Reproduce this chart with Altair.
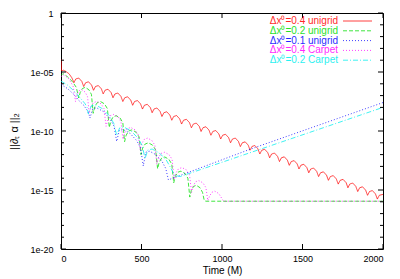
import altair as alt
import pandas as pd

# ---------------- data (log10 of ||d_t alpha||_2) ----------------
series_names = ["Δx⁰=0.4 unigrid", "Δx⁰=0.2 unigrid", "Δx⁰=0.1 unigrid",
                "Δx⁰=0.4 Carpet", "Δx⁰=0.2 Carpet"]
series_colors = ["#ff0000", "#00dd00", "#0000ff", "#ff00ff", "#00eeee"]
series_dash = [[1, 0], [4, 2], [1, 2], [1, 2], [5, 2, 1, 2]]

red_t = [0, 3, 15, 30, 50, 68,
         80, 92, 110, 129, 141, 153, 171, 190, 202, 214, 232, 251, 262, 274, 292, 311,
         323, 335, 353, 372, 384, 396, 414, 433, 445, 457, 475, 494, 506, 518, 536, 555,
         566, 578, 596, 615, 627, 639, 657, 676, 688, 700, 718, 737, 749, 761, 779, 798,
         810, 822, 840, 859, 870, 882, 900, 919, 931, 943, 961, 980, 992, 1004, 1022, 1041,
         1053, 1065, 1083, 1102, 1114, 1126, 1144, 1163, 1174, 1186, 1204, 1223,
         1235, 1247, 1265, 1284, 1296, 1308, 1326, 1345, 1357, 1369, 1387, 1406,
         1418, 1430, 1448, 1467, 1478, 1490, 1508, 1527, 1539, 1551, 1569, 1588,
         1600, 1612, 1630, 1649, 1661, 1673, 1691, 1710, 1722, 1734, 1752, 1771,
         1782, 1794, 1812, 1831, 1843, 1855, 1873, 1892, 1904, 1916, 1934, 1953,
         1965, 1977, 2000]
red_log = [-3.9, -4.9, -4.85, -4.95, -5.15, -5.5,
           -5.91, -5.59, -5.51, -5.79, -6.23, -5.91, -5.83, -6.11, -6.55, -6.23, -6.15, -6.43,
           -6.86, -6.54, -6.46, -6.74, -7.18, -6.86, -6.78, -7.06, -7.50, -7.18, -7.10, -7.38,
           -7.82, -7.50, -7.42, -7.70, -8.14, -7.82, -7.74, -8.02, -8.45, -8.13, -8.05, -8.33,
           -8.77, -8.45, -8.37, -8.65, -9.09, -8.77, -8.69, -8.97, -9.41, -9.09, -9.01, -9.29,
           -9.73, -9.41, -9.33, -9.61, -10.04, -9.72, -9.64, -9.92, -10.36, -10.04, -9.96, -10.24,
           -10.68, -10.36, -10.28, -10.56, -11.00, -10.68, -10.60, -10.88,
           -11.32, -11.00, -10.92, -11.20, -11.63, -11.31, -11.23, -11.51,
           -11.95, -11.63, -11.55, -11.83, -12.27, -11.95, -11.87, -12.15,
           -12.59, -12.27, -12.19, -12.47, -12.91, -12.59, -12.51, -12.79,
           -13.22, -12.90, -12.82, -13.10, -13.54, -13.22, -13.14, -13.42,
           -13.86, -13.54, -13.46, -13.74, -14.18, -13.86, -13.78, -14.06,
           -14.50, -14.18, -14.10, -14.38, -14.81, -14.49, -14.41, -14.69,
           -15.13, -14.81, -14.73, -15.01, -15.45, -15.13, -15.05, -15.33,
           -15.77, -15.45, -15.37]

green_t = [0, 12, 40, 70, 95, 110,
           119, 133, 150, 173, 189, 200,
           210, 225, 245, 270, 288, 300,
           310, 324, 343, 367, 384, 395,
           405, 420, 441, 466, 485, 497,
           507, 523, 543, 569, 588, 600,
           610, 625, 645, 670, 688, 700,
           710, 725, 745, 770, 788, 800,
           809, 823, 840, 863, 879, 890,
           900, 2000]
green_log = [-5.30, -5.13, -5.4, -5.8, -6.3, -7.2,
             -6.75, -6.4, -6.3, -6.5, -6.9, -8.5,
             -7.95, -7.6, -7.5, -7.7, -8.1, -9.7,
             -9.15, -8.8, -8.7, -8.9, -9.3, -10.9,
             -10.35, -10.0, -9.9, -10.1, -10.5, -12.0,
             -11.45, -11.1, -11.0, -11.2, -11.6, -13.2,
             -12.65, -12.3, -12.2, -12.4, -12.8, -14.4,
             -13.85, -13.5, -13.4, -13.6, -14.0, -15.6,
             -15.05, -14.7, -14.6, -14.8, -15.2, -15.9,
             -15.95, -15.95]

blue_t = [0, 40, 80, 110, 140, 160, 172, 180,
          197, 221, 263, 304, 329, 346,
          362, 387, 428, 470, 494, 511,
          527, 550, 589, 628, 651, 667,
          1174, 2000]
blue_log = [-6.05, -6.4, -6.9, -7.4, -7.8, -8.2, -8.5, -8.9,
            -8.11, -8.03, -8.35, -8.95, -9.58, -10.88,
            -9.95, -9.88, -10.19, -10.81, -11.43, -12.97,
            -11.8, -11.71, -12.0, -12.58, -13.19, -14.14,
            -11.55, -7.59]

magenta_t = [0, 15, 45, 75, 90,
             99, 111, 128, 150, 165, 175,
             186, 201, 222, 249, 267, 280,
             291, 306, 327, 354, 372, 385,
             396, 412, 433, 460, 479, 492,
             502, 518, 538, 564, 583, 595,
             606, 622, 644, 671, 690, 703,
             714, 730, 752, 779, 798, 811,
             821, 836, 856, 882, 900, 912,
             922, 936, 955, 980, 998, 1010,
             2000]
magenta_log = [-5.4, -5.25, -5.5, -6.2, -7.5,
               -6.95, -6.6, -6.5, -6.7, -7.1, -8.5,
               -7.95, -7.6, -7.5, -7.7, -8.1, -9.6,
               -9.05, -8.7, -8.6, -8.8, -9.2, -10.7,
               -10.15, -9.8, -9.7, -9.9, -10.3, -11.6,
               -11.05, -10.7, -10.6, -10.8, -11.2, -12.8,
               -12.25, -11.9, -11.8, -12.0, -12.4, -14.1,
               -13.55, -13.2, -13.1, -13.3, -13.7, -15.2,
               -14.65, -14.3, -14.2, -14.4, -14.8, -15.9,
               -15.55, -15.2, -15.1, -15.3, -15.7, -15.95,
               -15.95]

cyan_t = [0, 40, 80, 120, 150, 162, 170,
          188, 214, 258, 302, 328, 346,
          364, 390, 434, 478, 504, 522,
          540, 566, 610, 654, 680, 705, 740, 2000]
cyan_log = [-5.77, -6.1, -6.6, -7.2, -7.7, -8.0, -8.56,
            -7.87, -7.80, -8.11, -8.73, -9.36, -10.38,
            -9.74, -9.66, -9.98, -10.6, -11.22, -12.33,
            -11.6, -11.53, -11.85, -12.46, -13.09, -13.75, -13.86, -8.0]

xtick_vals = [0, 500, 1000, 1500, 2000]
ytick_vals = [1, 1e-5, 1e-10, 1e-15, 1e-20]
ytick_labels = ["1", "1e-05", "1e-10", "1e-15", "1e-20"]
yminor_exps = [-1, -2, -3, -4, -6, -7, -8, -9, -11, -12, -13, -14, -16, -17, -18, -19]

x_title = "Time (M)"
y_title = "||∂ₜ α  ||₂"

# ---------------- build table ----------------
rows = []
all_t = [red_t, green_t, blue_t, magenta_t, cyan_t]
all_l = [red_log, green_log, blue_log, magenta_log, cyan_log]
for name, ts, ls in zip(series_names, all_t, all_l):
    for t, l in zip(ts, ls):
        rows.append({"series": name, "t": t, "v": 10.0 ** l})
df = pd.DataFrame(rows)

W, H = 322, 236
FONT = "Liberation Sans"

xscale = alt.Scale(domain=[0, 2000], nice=False, zero=False)
yscale = alt.Scale(type="log", domain=[1e-20, 1], nice=False)

label_expr = ""
for v, lab in zip(ytick_vals[:-1], ytick_labels[:-1]):
    label_expr += f"datum.value > {v / 100:g} ? '{lab}' : "
label_expr += f"'{ytick_labels[-1]}'"

xaxis = alt.Axis(values=xtick_vals, title=x_title, ticks=False, domain=False, grid=False,
                 labelPadding=5, titlePadding=2, format="d", labelFontSize=9)
yaxis = alt.Axis(values=ytick_vals, title=y_title, ticks=False, domain=False, grid=False,
                 labelPadding=8, titlePadding=10, labelExpr=label_expr, labelFontSize=9,
                 titleFontSize=11)


def X():
    return alt.X("t:Q", scale=xscale, axis=xaxis)


def Y():
    return alt.Y("v:Q", scale=yscale, axis=yaxis)


color_scale = alt.Scale(domain=series_names, range=series_colors)
dash_scale = alt.Scale(domain=series_names, range=series_dash)

lines = alt.Chart(df).mark_line(strokeWidth=1, clip=True, opacity=0.75).encode(
    x=X(), y=Y(),
    color=alt.Color("series:N", scale=color_scale, legend=None),
    strokeDash=alt.StrokeDash("series:N", scale=dash_scale, legend=None),
    detail="series:N",
)

# inward ticks (gnuplot style)
xt = pd.DataFrame({"t": xtick_vals})
ymaj = pd.DataFrame({"v": ytick_vals})
ymin = pd.DataFrame({"v": [10.0 ** e for e in yminor_exps]})

tick_layers = [
    alt.Chart(xt).mark_rule(color="black").encode(x=X(), y=alt.value(H), y2=alt.value(H - 5)),
    alt.Chart(xt).mark_rule(color="black").encode(x=X(), y=alt.value(0), y2=alt.value(5)),
    alt.Chart(ymaj).mark_rule(color="black").encode(y=Y(), x=alt.value(0), x2=alt.value(5)),
    alt.Chart(ymaj).mark_rule(color="black").encode(y=Y(), x=alt.value(W), x2=alt.value(W - 5)),
    alt.Chart(ymin).mark_rule(color="black").encode(y=Y(), x=alt.value(0), x2=alt.value(3)),
    alt.Chart(ymin).mark_rule(color="black").encode(y=Y(), x=alt.value(W), x2=alt.value(W - 3)),
]

# legend (top right, gnuplot style: coloured text, sample line to the right)
legend_layers = []
for i, (name, col, dash) in enumerate(zip(series_names, series_colors, series_dash)):
    yy = 8 + 9.8 * i
    legend_layers.append(
        alt.Chart(pd.DataFrame({"label": [name]})).mark_text(
            align="right", baseline="middle", font=FONT, fontSize=10, color=col, opacity=0.85
        ).encode(text="label:N", x=alt.value(277), y=alt.value(yy))
    )
    legend_layers.append(
        alt.Chart(pd.DataFrame({"label": [name]})).mark_rule(
            color=col, strokeDash=dash, strokeWidth=1, opacity=0.75
        ).encode(x=alt.value(282), x2=alt.value(311), y=alt.value(yy))
    )

chart = alt.layer(lines, *tick_layers, *legend_layers).properties(
    width=W, height=H,
    autosize=alt.AutoSizeParams(type="none"),
    padding={"left": 53, "top": 5, "right": 9, "bottom": 30},
).configure_view(stroke="black", strokeWidth=1).configure_axis(
    labelFont=FONT, labelFontSize=10, labelColor="black",
    titleFont=FONT, titleFontSize=10, titleFontWeight="normal", titleColor="black",
)

chart.save("out.html", embed_options={"renderer": "svg", "actions": False})
